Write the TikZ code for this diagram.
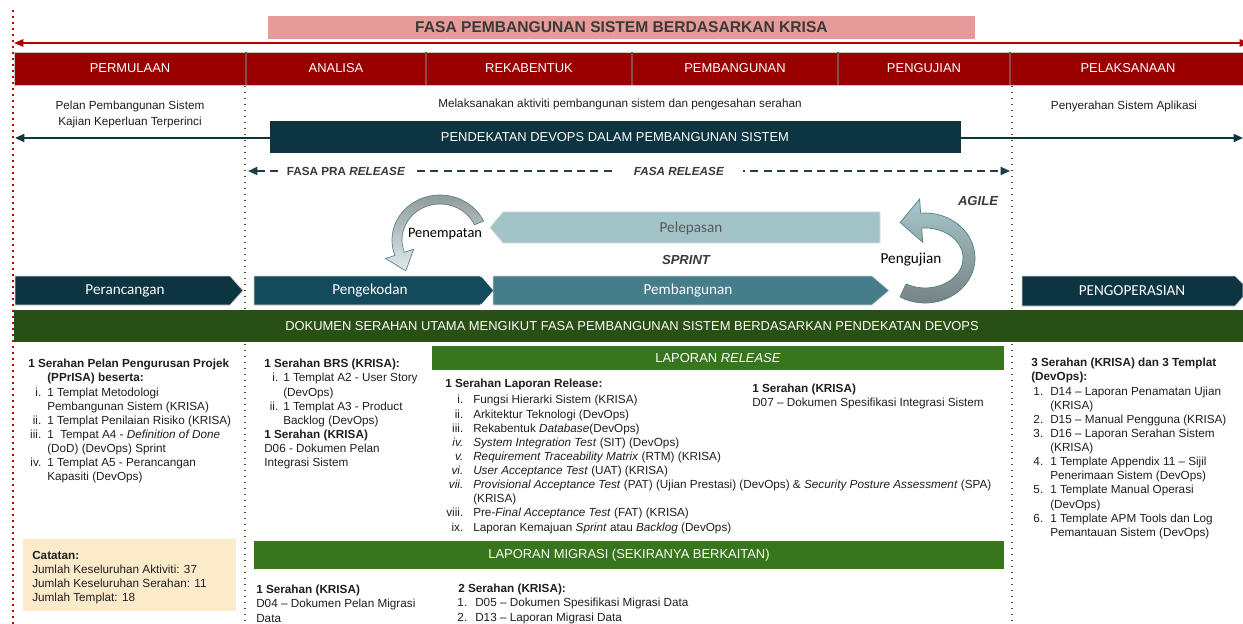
\documentclass[tikz,border=0pt]{standalone}
\usepackage{fontspec}
\setmainfont{Liberation Sans}
\newfontfamily\calib{Carlito}
\usetikzlibrary{arrows.meta}
\definecolor{hdrred}{HTML}{990000}
\definecolor{lineRed}{HTML}{B00000}
\definecolor{dotRed}{HTML}{C00000}
\definecolor{pinkT}{HTML}{E69A9A}
\definecolor{tealD}{HTML}{0D3441}
\definecolor{tealM}{HTML}{144B5C}
\definecolor{tealL}{HTML}{457D8B}
\definecolor{tealP}{HTML}{A2C4C9}
\definecolor{greenD}{HTML}{284F14}
\definecolor{greenM}{HTML}{38761D}
\definecolor{dotGreen}{HTML}{375623}
\definecolor{noteY}{HTML}{FCEBCA}
\definecolor{txtG}{HTML}{3A3A3A}
\newcommand\numbox[3]{\makebox[#1][r]{#3}\hspace*{#2}}
\begin{document}
\begin{tikzpicture}[x=0.75pt,y=-0.75pt,
  >={Triangle[length=7pt,width=6pt]},
  blk/.style={inner sep=0pt, anchor=north west, align=left, text=black!88,
    font=\fontsize{8.8}{10.6}\selectfont},
  ctr/.style={inner sep=0pt, anchor=center, text=black!88, font=\fontsize{8.8}{10.6}\selectfont},
  hdr/.style={inner sep=0pt, text=white, font=\fontsize{9.7}{11}\selectfont},
  cal/.style={inner sep=0pt, font=\calib\fontsize{11.4}{13}\selectfont},
  lbl/.style={inner sep=0pt, text=txtG, font=\bfseries\fontsize{8.8}{10}\selectfont},
  reddots/.style={dotRed, line width=1.2pt, dash pattern=on 1.2pt off 3.3pt},
  grndots/.style={dotGreen, line width=1pt, dash pattern=on 1pt off 3.5pt},
  chev/.style={draw=gray!35, line width=0.5pt}
]
\useasboundingbox (0,0) rectangle (1243,624);
\fill[white] (0,0) rectangle (1243,624);

% dotted guide lines
\draw[reddots] (13,10) -- (13,624);
\draw[grndots] (245,86) -- (245,624);
\draw[grndots] (1012,86) -- (1012,624);

% title
\fill[pinkT] (268,16) rectangle (975,39);
\node[inner sep=0pt, text=txtG, font=\bfseries\fontsize{11.7}{13}\selectfont] (title) at (621.5,27.5) {FASA PEMBANGUNAN SISTEM BERDASARKAN KRISA};
\coordinate (rl) at (14,43);
\coordinate (rr) at (1249,43);
\draw[lineRed, line width=1.3pt, {Triangle[length=7pt,width=5.5pt]}-{Triangle[length=7pt,width=5.5pt]}] (rl) -- (rr);

% phase header bar
\fill[hdrred] (14,52) rectangle (1243,85);
\draw[gray!45, line width=0.5pt] (14,52) -- (1243,52) (14,85) -- (1243,85) (14,52) -- (14,85);
\foreach \xx in {246,426,632,838,1010} \draw[gray!60!hdrred, line width=0.8pt] (\xx,52) -- (\xx,85);
\node[hdr] (p1) at (130,68.5) {PERMULAAN};
\node[hdr] (p2) at (336,68.5) {ANALISA};
\node[hdr] (p3) at (529,68.5) {REKABENTUK};
\node[hdr] (p4) at (735,68.5) {PEMBANGUNAN};
\node[hdr] (p5) at (924,68.5) {PENGUJIAN};
\node[hdr] (p6) at (1128,68.5) {PELAKSANAAN};

% descriptions
\node[ctr, align=center, font=\fontsize{8.8}{12}\selectfont] (d1) at (130,114) {Pelan Pembangunan Sistem\\Kajian Keperluan Terperinci};
\node[ctr] (d2) at (620,104) {Melaksanakan aktiviti pembangunan sistem dan pengesahan serahan};
\node[ctr] (d3) at (1124,106) {Penyerahan Sistem Aplikasi};

% devops line and band
\coordinate (tl) at (15,138);
\coordinate (tr) at (1243,138);
\draw[tealD, line width=1.2pt, <->] (tl) -- (tr);
\fill[tealD] (270,121) rectangle (961,153);
\node[hdr] (devops) at (615,137) {PENDEKATAN DEVOPS DALAM PEMBANGUNAN SISTEM};

% release dashed arrow
\coordinate (dl) at (248,171);
\coordinate (dr) at (1010,171);
\draw[tealD!85!gray, line width=1.3pt, dash pattern=on 6pt off 4pt, <->] (dl) -- (dr);
\node[lbl, fill=white, inner xsep=6pt, inner ysep=2pt] (fpra) at (346,171) {FASA PRA \textit{RELEASE}};
\node[lbl, fill=white, inner xsep=14pt, inner ysep=2pt] (frel) at (679,171) {\textit{FASA RELEASE}};
\node[lbl, font=\bfseries\itshape\fontsize{9.8}{11}\selectfont] (agile) at (978,201) {AGILE};

% Pelepasan arrow
\fill[tealP, draw=gray!30, line width=0.5pt] (490,227.5) -- (503,212) -- (880,212) -- (880,243) -- (503,243) -- cycle;
\node[cal, text=black!65] (pel) at (691,228) {Pelepasan};

% Penempatan curved arrow
\path[draw=gray!70!teal, line width=0.5pt, top color=gray!70!tealP, bottom color=tealP!35]
  (483.5,221) arc[start angle=-25, end angle=-200, x radius=48, y radius=45]
  -- (385.5,258.5) -- (405.8,270.8) -- (413.7,249.2) -- (404.3,252.3)
  arc[start angle=-200, end angle=-25, x radius=38, y radius=36] -- cycle;
\node[cal, fill=white, inner sep=1pt, text=black, font=\calib\fontsize{10.8}{12}\selectfont] (pen) at (445,234) {Penempatan};

% Pengujian curved arrow
\path[draw=gray!60!teal, line width=0.5pt, top color=tealP!95!white, bottom color=gray!80!tealL]
  (900,297) arc[start angle=120, end angle=-95, x radius=50, y radius=45]
  -- (919.6,199) -- (900.2,222.5) -- (922.7,242.3) -- (921.7,228.1)
  arc[start angle=-95, end angle=120, x radius=38, y radius=30] -- cycle;
\node[cal, text=black] (uji) at (911,260) {Pengujian};
\node[lbl, font=\bfseries\itshape\fontsize{9.8}{11}\selectfont] (sprint) at (686,260) {SPRINT};

% chevrons
\fill[tealD, chev] (15,276) -- (230,276) -- (243,290.5) -- (230,305) -- (15,305) -- cycle;
\node[cal, text=white] (c1) at (125,291) {Perancangan};
\fill[tealM, chev] (254,276) -- (480,276) -- (493,290.5) -- (480,305) -- (254,305) -- cycle;
\fill[tealL, chev] (493,276) -- (872,276) -- (889,290.5) -- (872,305) -- (493,305) -- (493,290.5) -- cycle;
\fill[tealM] (481,276.5) -- (493,290.5) -- (481,304.5) -- cycle;
\node[cal, text=white] (c2) at (370,291) {Pengekodan};
\node[cal, text=white] (c3) at (688,291) {Pembangunan};
\fill[tealD, chev] (1022,276) -- (1235,276) -- (1243,284) -- (1243,297) -- (1235,306) -- (1022,306) -- cycle;
\node[cal, text=white] (c4) at (1132,291) {PENGOPERASIAN};

% document bar
\fill[greenD] (14,310) rectangle (1243,342);
\node[hdr] (dok) at (632,326) {DOKUMEN SERAHAN UTAMA MENGIKUT FASA PEMBANGUNAN SISTEM BERDASARKAN PENDEKATAN DEVOPS};
\fill[greenM] (432,346) rectangle (1004,370);
\node[hdr] (lrel) at (718,358) {LAPORAN \textit{RELEASE}};
\fill[greenM] (254,541) rectangle (1004,569);
\node[hdr] (lmig) at (629,555) {LAPORAN MIGRASI (SEKIRANYA BERKAITAN)};

% column 1
\node[blk] (colA) at (28,359) {\textbf{1 Serahan Pelan Pengurusan Projek}\\
\hspace*{14.25pt}\textbf{(PPrISA) beserta:}\\
\numbox{9.75pt}{4.5pt}{i.}1 Templat Metodologi\\
\hspace*{14.25pt}Pembangunan Sistem (KRISA)\\
\numbox{9.75pt}{4.5pt}{ii.}1 Templat Penilaian Risiko (KRISA)\\
\numbox{9.75pt}{4.5pt}{iii.}1 \ Tempat A4 - \textit{Definition of Done}\\
\hspace*{14.25pt}(DoD) (DevOps) Sprint\\
\numbox{9.75pt}{4.5pt}{iv.}1 Templat A5 - Perancangan\\
\hspace*{14.25pt}Kapasiti (DevOps)};

% note box
\fill[noteY] (23,539) rectangle (236,611);
\node[blk] (note) at (32,551) {\textbf{Catatan:}\\
Jumlah Keseluruhan Aktiviti: 37\\
Jumlah Keseluruhan Serahan: 11\\
Jumlah Templat: 18};

% column 2
\node[blk] (colB) at (264,359) {\textbf{1 Serahan BRS (KRISA):}\\
\numbox{10.5pt}{3.75pt}{i.}1 Templat A2 - User Story\\
\hspace*{14.25pt}(DevOps)\\
\numbox{10.5pt}{3.75pt}{ii.}1 Templat A3 - Product\\
\hspace*{14.25pt}Backlog (DevOps)\\
\textbf{1 Serahan (KRISA)}\\
D06 - Dokumen Pelan\\
Integrasi Sistem};

% release report
\node[blk] (relA) at (445,379) {\textbf{1 Serahan Laporan Release:}\\[1.5pt]
\numbox{13.5pt}{7.5pt}{i.}Fungsi Hierarki Sistem (KRISA)\\
\numbox{13.5pt}{7.5pt}{ii.}Arkitektur Teknologi (DevOps)\\
\numbox{13.5pt}{7.5pt}{iii.}Rekabentuk \textit{Database}(DevOps)\\
\numbox{13.5pt}{7.5pt}{\textit{iv.}}\textit{System Integration Test} (SIT) (DevOps)\\
\numbox{13.5pt}{7.5pt}{\textit{v.}}\textit{Requirement Traceability Matrix} (RTM) (KRISA)\\
\numbox{13.5pt}{7.5pt}{\textit{vi.}}\textit{User Acceptance Test} (UAT) (KRISA)\\
\numbox{13.5pt}{7.5pt}{\textit{vii.}}\textit{Provisional Acceptance Test} (PAT) (Ujian Prestasi) (DevOps) \& \textit{Security Posture Assessment} (SPA)\\
\hspace*{21pt}(KRISA)\\
\numbox{13.5pt}{7.5pt}{viii.}Pre-\textit{Final Acceptance Test} (FAT) (KRISA)\\
\numbox{13.5pt}{7.5pt}{ix.}Laporan Kemajuan \textit{Sprint} atau \textit{Backlog} (DevOps)};
\node[blk] (relB) at (752,384) {\textbf{1 Serahan (KRISA)}\\
D07 -- Dokumen Spesifikasi Integrasi Sistem};

% column 4
\node[blk] (colD) at (1031,358) {\textbf{3 Serahan (KRISA) dan 3 Templat}\\
\textbf{(DevOps):}\\
\numbox{9pt}{5.25pt}{1.}D14 -- Laporan Penamatan Ujian\\
\hspace*{14.25pt}(KRISA)\\
\numbox{9pt}{5.25pt}{2.}D15 -- Manual Pengguna (KRISA)\\
\numbox{9pt}{5.25pt}{3.}D16 -- Laporan Serahan Sistem\\
\hspace*{14.25pt}(KRISA)\\
\numbox{9pt}{5.25pt}{4.}1 Template Appendix 11 -- Sijil\\
\hspace*{14.25pt}Penerimaan Sistem (DevOps)\\
\numbox{9pt}{5.25pt}{5.}1 Template Manual Operasi\\
\hspace*{14.25pt}(DevOps)\\
\numbox{9pt}{5.25pt}{6.}1 Template APM Tools dan Log\\
\hspace*{14.25pt}Pemantauan Sistem (DevOps)};

% migration
\node[blk] (migA) at (256,585) {\textbf{1 Serahan (KRISA)}\\
D04 -- Dokumen Pelan Migrasi\\
Data};
\node[blk] (migB) at (458,584) {\textbf{2 Serahan (KRISA):}\\
\numbox{6.75pt}{6pt}{1.}D05 -- Dokumen Spesifikasi Migrasi Data\\
\numbox{6.75pt}{6pt}{2.}D13 -- Laporan Migrasi Data};
\end{tikzpicture}
\end{document}
